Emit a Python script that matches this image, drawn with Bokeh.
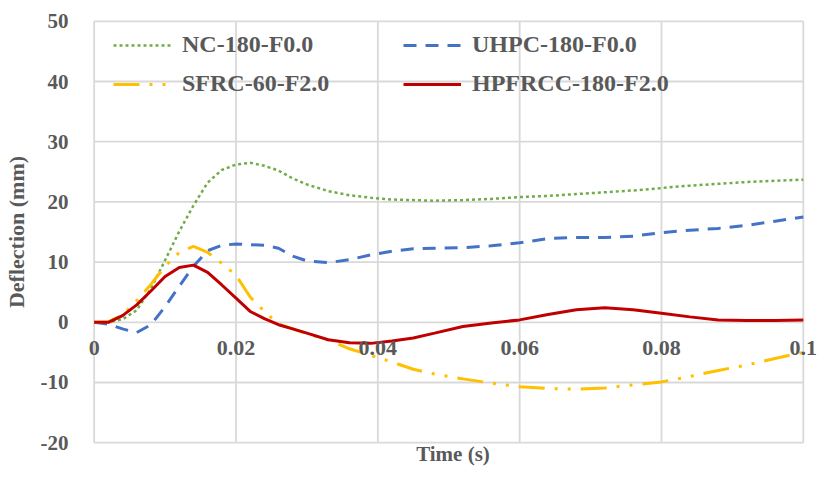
from bokeh.plotting import figure
from bokeh.models import (Range1d, FixedTicker, CustomJSTickFormatter, Legend, LegendItem,
                          LabelSet, ColumnDataSource)
from bokeh.embed import file_html
from bokeh.resources import INLINE

# ---------------- data ----------------
time_s = [0, 0.002, 0.004, 0.006, 0.008, 0.010, 0.012, 0.014, 0.016, 0.018,
          0.020, 0.022, 0.024, 0.026, 0.028, 0.030, 0.033, 0.036, 0.039, 0.042,
          0.045, 0.048, 0.052, 0.056, 0.060, 0.064, 0.068, 0.072, 0.076, 0.080,
          0.084, 0.088, 0.092, 0.096, 0.100]

nc_180_f00 = [0, 0, 0.5, 2.0, 5.6, 10.3, 15.1, 19.4, 23.2, 25.3,
              26.2, 26.5, 26.0, 25.2, 23.9, 22.9, 21.8, 21.1, 20.7, 20.4,
              20.3, 20.2, 20.3, 20.5, 20.8, 21.0, 21.3, 21.6, 21.9, 22.3,
              22.7, 23.0, 23.3, 23.5, 23.7]

uhpc_180_f00 = [0, -0.3, -1.1, -1.7, -0.4, 2.6, 6.0, 9.3, 11.9, 12.8,
                13.0, 12.9, 12.8, 12.3, 11.0, 10.2, 9.9, 10.4, 11.2, 11.8,
                12.2, 12.3, 12.4, 12.7, 13.2, 13.9, 14.1, 14.1, 14.3, 14.9,
                15.3, 15.6, 16.1, 16.8, 17.5]

sfrc_60_f20 = [0, 0.1, 1.2, 3.6, 6.3, 9.3, 11.6, 12.6, 11.6, 9.8,
               7.8, 4.2, 1.8, -0.3, -1.1, -1.9, -2.9, -4.4, -5.5, -6.6,
               -7.8, -8.6, -9.4, -10.1, -10.7, -11.0, -11.1, -10.9, -10.4, -9.9,
               -9.0, -8.0, -7.1, -6.0, -5.0]

hpfrcc_180_f20 = [0, 0, 1.1, 2.9, 5.2, 7.6, 9.1, 9.5, 8.3, 6.2,
                  4.0, 1.8, 0.6, -0.4, -1.1, -1.8, -2.9, -3.4, -3.5, -3.1,
                  -2.6, -1.8, -0.7, -0.1, 0.4, 1.3, 2.1, 2.4, 2.1, 1.5,
                  0.9, 0.4, 0.3, 0.3, 0.4]

x_ticks = [0, 0.02, 0.04, 0.06, 0.08, 0.1]
x_tick_labels = ["0", "0.02", "0.04", "0.06", "0.08", "0.1"]
y_ticks = [-20, -10, 0, 10, 20, 30, 40, 50]

series_labels = ["NC-180-F0.0", "UHPC-180-F0.0", "SFRC-60-F2.0", "HPFRCC-180-F2.0"]
x_title = "Time (s)"
y_title = "Deflection (mm)"

# ---------------- styles ----------------
FONT = "Liberation Serif"
TXT = "#595959"
GRID = "#d9d9d9"

# small view margins so the edge grid lines and the "0" / "0.1" labels are not clipped
x_range = Range1d(x_ticks[0] - 0.0008, x_ticks[-1] + 0.002)
y_range = Range1d(y_ticks[0] - 0.3, y_ticks[-1] + 0.3)

p = figure(width=817, height=469, output_backend="svg", toolbar_location=None,
           x_range=x_range, y_range=y_range,
           min_border_left=88, min_border_right=0, min_border_top=19,
           min_border_bottom=25, background_fill_color="white",
           border_fill_color="white")

p.outline_line_color = None
p.grid.visible = False

# bottom axis carries only the title
xa = p.xaxis[0]
xa.ticker = FixedTicker(ticks=[])
xa.axis_label = x_title
xa.axis_label_text_font = FONT
xa.axis_label_text_font_style = "bold"
xa.axis_label_text_font_size = "21px"
xa.axis_label_text_color = TXT
xa.axis_label_standoff = -3
xa.axis_line_color = None
xa.major_tick_line_color = None
xa.minor_tick_line_color = None

ya = p.yaxis[0]
ya.ticker = FixedTicker(ticks=y_ticks)
ya.formatter = CustomJSTickFormatter(code="return tick.toFixed(0);")
ya.axis_line_color = None
ya.major_tick_line_color = None
ya.minor_tick_line_color = None
ya.major_label_standoff = 14
ya.major_label_text_font = FONT
ya.major_label_text_font_style = "bold"
ya.major_label_text_font_size = "21px"
ya.major_label_text_color = TXT
ya.axis_label = y_title
ya.axis_label_text_font = FONT
ya.axis_label_text_font_style = "bold"
ya.axis_label_text_font_size = "22px"
ya.axis_label_text_color = TXT
ya.axis_label_standoff = 9

# chart-area grid, bounded by the first and last ticks
n_x, n_y = len(x_ticks), len(y_ticks)
p.segment(x0=x_ticks, y0=[y_ticks[0]] * n_x, x1=x_ticks, y1=[y_ticks[-1]] * n_x,
          line_color=GRID, line_width=1.8)
p.segment(x0=[x_ticks[0]] * n_y, y0=y_ticks, x1=[x_ticks[-1]] * n_y, y1=y_ticks,
          line_color=GRID, line_width=1.8)

r_nc = p.line(time_s, nc_180_f00, line_color="#70AD47", line_width=2.5, line_dash="3 3")
r_uh = p.line(time_s, uhpc_180_f00, line_color="#4472C4", line_width=3, line_dash="13 9")
r_sf = p.line(time_s, sfrc_60_f20, line_color="#FFC000", line_width=3,
              line_dash="26 10 3 10 3 10")
r_hp = p.line(time_s, hpfrcc_180_f20, line_color="#C00000", line_width=3)

# x tick labels sitting just under the y = 0 line
tick_src = ColumnDataSource(data=dict(x=x_ticks, y=[0] * n_x, text=x_tick_labels))
xt = LabelSet(x="x", y="y", text="text", source=tick_src, y_offset=-19,
              text_align="center", text_baseline="top",
              text_font=FONT, text_font_style="bold", text_font_size="22px",
              text_color=TXT)
p.add_layout(xt)


def make_legend(items, loc):
    lg = Legend(items=items, location=loc, orientation="vertical")
    lg.label_text_font = FONT
    lg.label_text_font_style = "bold"
    lg.label_text_font_size = "24px"
    lg.label_text_color = TXT
    lg.glyph_width = 58
    lg.glyph_height = 20
    lg.label_standoff = 11
    lg.spacing = 12
    lg.padding = 0
    lg.margin = 0
    lg.border_line_color = None
    lg.background_fill_alpha = 0
    return lg


leg1 = make_legend([LegendItem(label=series_labels[0], renderers=[r_nc]),
                    LegendItem(label=series_labels[2], renderers=[r_sf])], (25, 347))
leg2 = make_legend([LegendItem(label=series_labels[1], renderers=[r_uh]),
                    LegendItem(label=series_labels[3], renderers=[r_hp])], (315, 347))
p.add_layout(leg1)
p.add_layout(leg2)

open("out.html", "w").write(file_html(p, INLINE))
